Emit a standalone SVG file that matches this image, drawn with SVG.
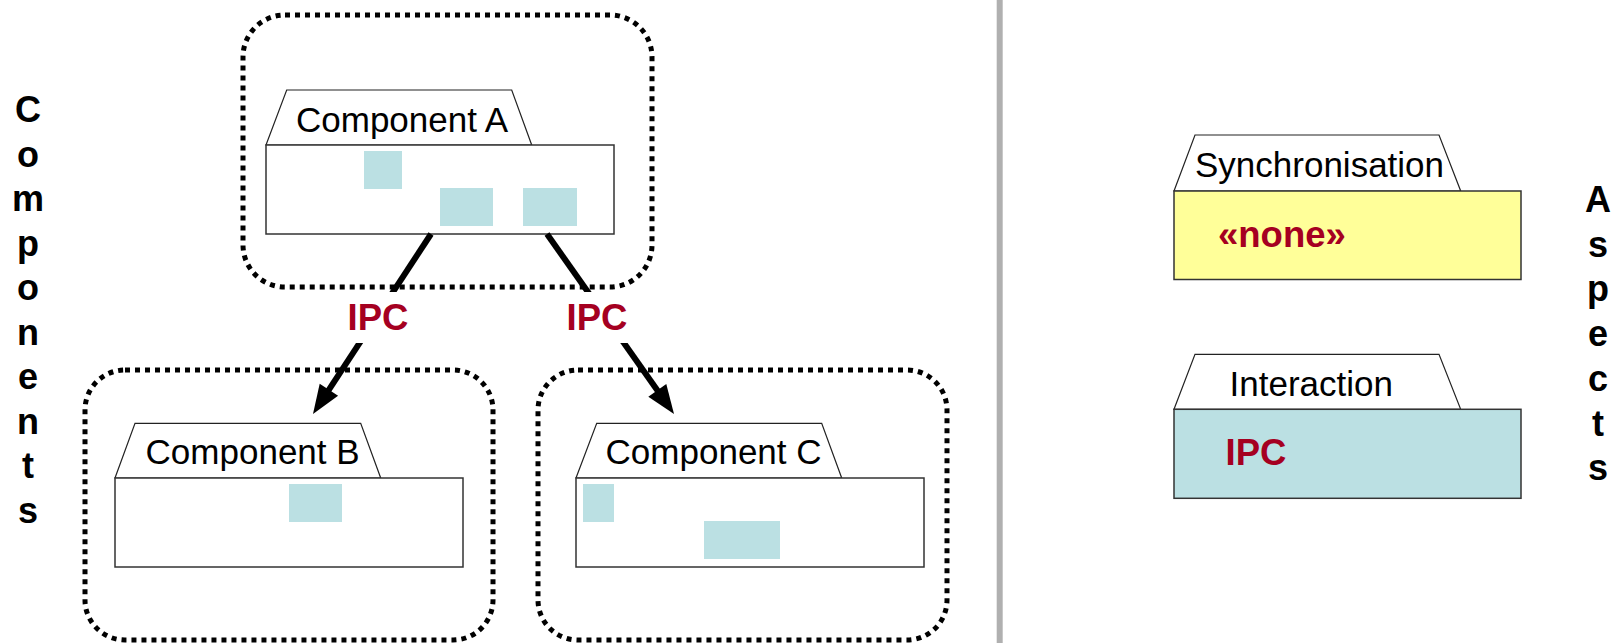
<svg xmlns="http://www.w3.org/2000/svg" width="1620" height="643" viewBox="0 0 1620 643">
  <defs>
    <style>
      .frame { fill: none; stroke: #000; stroke-width: 5; stroke-dasharray: 5 5; }
      .tab { fill: #fff; stroke: #222; stroke-width: 1.2; }
      .body { fill: #fff; stroke: #333; stroke-width: 1.5; }
      .port { fill: #bbe0e3; }
      .title { font-family: "Liberation Sans", Arial, sans-serif; font-size: 35px; fill: #000; }
      .tag { font-family: "Liberation Sans", Arial, sans-serif; font-size: 36.5px; font-weight: bold; fill: #a50021; }
      .side { font-family: "Liberation Sans", Arial, sans-serif; font-size: 36px; font-weight: bold; fill: #000; text-anchor: middle; }
      .link { stroke: #000; stroke-width: 6; fill: none; }
    </style>
    <marker id="arrow" markerUnits="userSpaceOnUse" viewBox="-5 -12 32 24" refX="0" refY="0" markerWidth="32" markerHeight="24" orient="auto">
      <path d="M-4,-11 L25,0 L-4,11 z" fill="#000"/>
    </marker>
  </defs>

  <rect width="1620" height="643" fill="#fff"/>

  <!-- divider between the two halves -->
  <line x1="999.7" y1="0" x2="999.7" y2="643" stroke="#b0b0b0" stroke-width="6"/>

  <!-- vertical side headings -->
  <g id="heading-components">
    <text class="side" x="28" y="122">C</text>
    <text class="side" x="28" y="166.5">o</text>
    <text class="side" x="28" y="211">m</text>
    <text class="side" x="28" y="255.5">p</text>
    <text class="side" x="28" y="300">o</text>
    <text class="side" x="28" y="344.5">n</text>
    <text class="side" x="28" y="389">e</text>
    <text class="side" x="28" y="433.5">n</text>
    <text class="side" x="28" y="478">t</text>
    <text class="side" x="28" y="522.5">s</text>
  </g>
  <g id="heading-aspects">
    <text class="side" x="1598" y="212">A</text>
    <text class="side" x="1598" y="256.7">s</text>
    <text class="side" x="1598" y="301.4">p</text>
    <text class="side" x="1598" y="346.1">e</text>
    <text class="side" x="1598" y="390.8">c</text>
    <text class="side" x="1598" y="435.5">t</text>
    <text class="side" x="1598" y="480.2">s</text>
  </g>

  <!-- component A with its dotted boundary -->
  <g id="component-a">
    <rect class="frame" x="243" y="15" width="409" height="272" rx="42" ry="42"/>
    <g transform="translate(266,145)">
      <polygon class="tab" points="0,0 20.7,-55 245.7,-55 265.7,0"/>
      <rect class="body" x="0" y="0" width="348" height="89"/>
      <rect class="port" x="98" y="6" width="38" height="38"/>
      <rect class="port" x="174" y="43" width="53" height="38"/>
      <rect class="port" x="257" y="43" width="54" height="38"/>
    </g>
    <text class="title" x="296" y="132">Component A</text>
  </g>

  <!-- component B -->
  <g id="component-b">
    <rect class="frame" x="85" y="370" width="408" height="270" rx="40" ry="40"/>
    <g transform="translate(115,478)">
      <polygon class="tab" points="0,0 20,-54.7 245.7,-54.7 265.7,0"/>
      <rect class="body" x="0" y="0" width="348" height="89"/>
      <rect class="port" x="174" y="6" width="53" height="38"/>
    </g>
    <text class="title" x="145.6" y="463.5">Component B</text>
  </g>

  <!-- component C -->
  <g id="component-c">
    <rect class="frame" x="538" y="370" width="409" height="270" rx="40" ry="40"/>
    <g transform="translate(576,478)">
      <polygon class="tab" points="0,0 20.7,-54.7 245.7,-54.7 265.7,0"/>
      <rect class="body" x="0" y="0" width="348" height="89"/>
      <rect class="port" x="7" y="6" width="31" height="38"/>
      <rect class="port" x="128" y="43" width="76" height="38"/>
    </g>
    <text class="title" x="605.6" y="463.5">Component C</text>
  </g>

  <!-- IPC connectors -->
  <g id="connectors">
    <line class="link" x1="431" y1="234" x2="326.7" y2="393.1" marker-end="url(#arrow)"/>
    <line class="link" x1="547" y1="234" x2="659.6" y2="393.6" marker-end="url(#arrow)"/>
    <rect x="344" y="292" width="72" height="51" fill="#fff"/>
    <rect x="563" y="292" width="72" height="51" fill="#fff"/>
    <text class="tag" x="347.5" y="330">IPC</text>
    <text class="tag" x="566.5" y="330">IPC</text>
  </g>

  <!-- aspect: synchronisation -->
  <g id="aspect-synchronisation">
    <g transform="translate(1174,191)">
      <polygon class="tab" points="0,0 21,-56 265,-56 286.7,0"/>
      <rect class="body" x="0" y="0" width="347" height="88.5" style="fill:#ffff99"/>
    </g>
    <text class="title" x="1195" y="177">Synchronisation</text>
    <text class="tag" x="1218" y="247">«none»</text>
  </g>

  <!-- aspect: interaction -->
  <g id="aspect-interaction">
    <g transform="translate(1174,409.3)">
      <polygon class="tab" points="0,0 21,-55 265,-55 286.7,0"/>
      <rect class="body" x="0" y="0" width="347" height="89" style="fill:#bbe0e3"/>
    </g>
    <text class="title" x="1229.5" y="396">Interaction</text>
    <text class="tag" x="1225.5" y="465">IPC</text>
  </g>
</svg>
